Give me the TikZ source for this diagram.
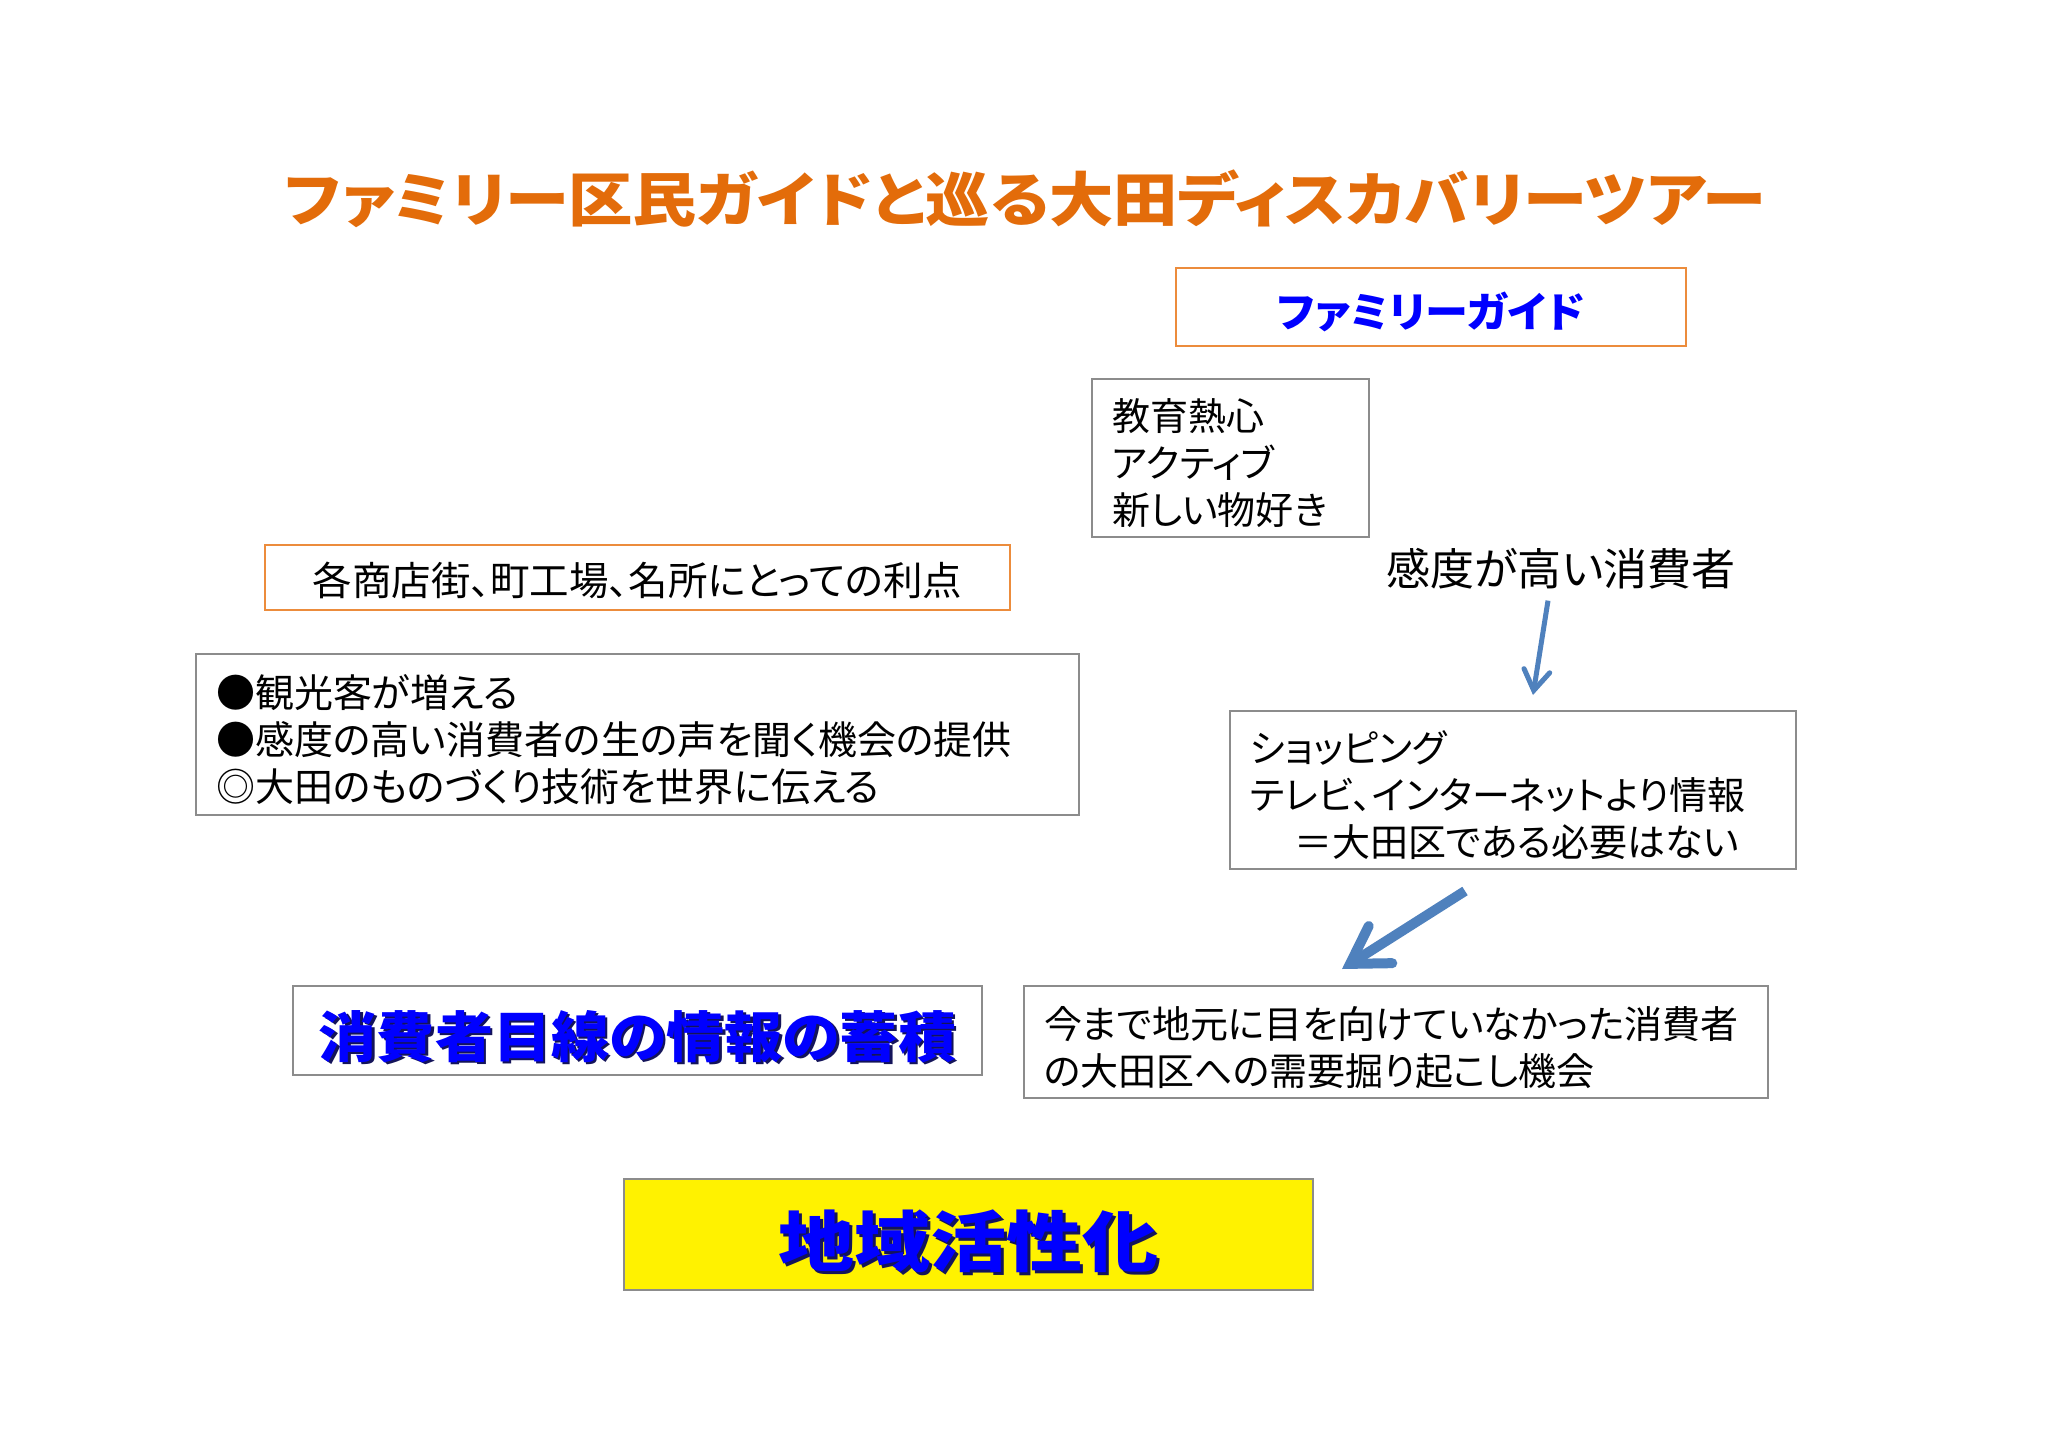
\documentclass[tikz,border=0pt]{standalone}
\usepackage{fontspec}
\usepackage{graphicx}
\usetikzlibrary{arrows.meta}
\newfontfamily\jp{Noto Sans CJK JP}[RawFeature=+palt]
\definecolor{ttlorange}{RGB}{227,108,10}
\definecolor{boxorange}{RGB}{236,140,60}
\definecolor{boxgray}{RGB}{140,140,140}
\definecolor{arrblue}{RGB}{79,129,189}
\definecolor{txtblue}{RGB}{0,0,255}
\definecolor{shadowc}{RGB}{20,20,90}
\newcommand\shtxt[1]{\makebox[0pt][l]{\hspace{0.045em}\raisebox{-0.045em}{\color{shadowc}#1}}#1}
\newcommand\topstr{\rule{0pt}{43pt}}
\newcommand\lowr[2]{\raisebox{-#1}[\height][\depth]{#2}}
\tikzset{
  gbox/.style={draw=boxgray, line width=2pt, fill=white, inner ysep=0pt, inner xsep=20pt, align=left,
    font=\jp\fontsize{38}{47}\selectfont},
  obox/.style={draw=boxorange, line width=2pt, fill=white, inner sep=0pt},
  thinarr/.style={draw=arrblue, line width=5pt, -{Straight Barb[length=20pt,width=26pt,line cap=round]}},
  thickarr/.style={draw=arrblue, line width=10pt, -{Straight Barb[length=36pt,width=44pt,line cap=round]}}
}
\begin{document}
\begin{tikzpicture}[x=1pt,y=-1pt]
\useasboundingbox (0,0) rectangle (2048,1447);
\fill[white] (0,0) rectangle (2048,1447);

% title
\node[inner sep=0pt, text=ttlorange] (title) at (1025,199)
  {\resizebox*{1480pt}{58pt}{\jp\bfseries ファミリー区民ガイドと巡る大田ディスカバリーツアー}};

% family guide
\node[obox, minimum width=510pt, minimum height=78pt, text=txtblue] (fguide) at (1431,307)
  {\lowr{5pt}{\resizebox*{307pt}{40pt}{\jp\bfseries ファミリーガイド}}};

% traits
\node[gbox, minimum height=158pt, text width=237pt] (traits) at (1230.5,458)
  {\topstr 教育熱心\\アクティブ\\新しい物好き};

% sensitive consumers
\node[inner sep=0pt, font=\jp\fontsize{44}{50}\selectfont] (kando) at (1561,569) {感度が高い消費者};

% shopping
\node[gbox, minimum height=158pt, text width=526pt] (shop) at (1513,790)
  {\topstr ショッピング\\テレビ、インターネットより情報\\\hspace*{44pt}＝大田区である必要はない};

% merits header
\node[obox, minimum width=745pt, minimum height=65pt, font=\jp\fontsize{39.5}{47}\selectfont] (merit) at (637.5,577.5)
  {\lowr{3pt}{各商店街、町工場、名所にとっての利点}};

% merits list
\node[gbox, minimum height=161pt, text width=843pt, font=\jp\fontsize{39}{47}\selectfont] (list) at (637.5,734.5)
  {\topstr ●観光客が増える\\●感度の高い消費者の生の声を聞く機会の提供\\◎大田のものづくり技術を世界に伝える};

% accumulation
\node[draw=boxgray, line width=2pt, fill=white, inner sep=0pt, minimum width=689pt, minimum height=89pt, text=txtblue] (accum) at (637.5,1030.5)
  {\lowr{7pt}{\resizebox*{637pt}{55pt}{\jp\bfseries\shtxt{消費者目線の情報の蓄積}}}};

% demand
\node[gbox, minimum height=112pt, text width=704pt] (ima) at (1396,1042)
  {\topstr 今まで地元に目を向けていなかった消費者\\の大田区への需要掘り起こし機会};

% revitalisation
\node[draw=boxgray, line width=2pt, fill=yellow, inner sep=0pt, minimum width=689pt, minimum height=111pt, text=txtblue] (kassei) at (968.5,1234.5)
  {\lowr{8pt}{\resizebox*{380pt}{66pt}{\jp\bfseries\shtxt{地域活性化}}}};

% arrows
\draw[thinarr] ([xshift=-13pt,yshift=-11pt]kando.south) -- ([xshift=20pt,yshift=15pt]shop.north);
\draw[thickarr] ([xshift=-48pt,yshift=-21pt]shop.south) -- ([xshift=-54pt,yshift=16pt]ima.north);
\end{tikzpicture}
\end{document}
